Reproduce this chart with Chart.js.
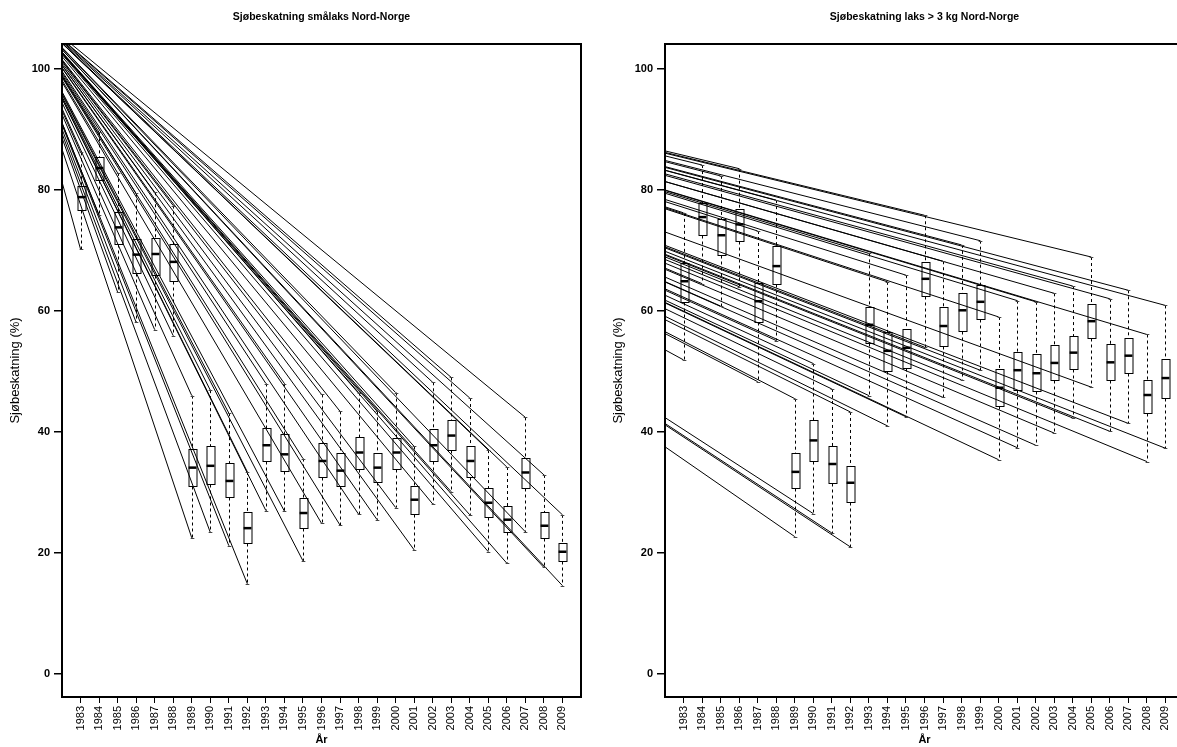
<!DOCTYPE html>
<html>
<head>
<meta charset="utf-8">
<script src="https://cdn.jsdelivr.net/npm/chart.js@4.4.1/dist/chart.umd.min.js"></script>
<style>
  html, body { margin: 0; padding: 0; background: #fff; overflow: hidden; width: 1177px; height: 747px; }
  .panel { position: absolute; top: 0; width: 590px; height: 747px; }
  #left { left: 0; }
  #right { left: 603px; }
</style>
</head>
<body>
<div class="panel" id="left"><canvas id="chartSma"></canvas></div>
<div class="panel" id="right"><canvas id="chartStor"></canvas></div>
<script>
const years = [1983, 1984, 1985, 1986, 1987, 1988, 1989, 1990, 1991, 1992, 1993, 1994, 1995, 1996,
  1997, 1998, 1999, 2000, 2001, 2002, 2003, 2004, 2005, 2006, 2007, 2008, 2009];
const yTicks = [0, 20, 40, 60, 80, 100];

// smålaks (left)
const smaUpper = [86.2, 89.5, 82.8, 79.4, 79.6, 77.4, 46.0, 46.9, 43.1, 33.4, 48.0, 48.0, 35.6, 46.2, 43.4, 46.5, 43.4, 46.5, 37.6, 48.2, 49.0, 45.6, 37.0, 34.2, 42.4, 32.9, 26.3];
const smaQ3 = [80.7, 85.4, 76.3, 71.8, 72.1, 71.0, 37.1, 37.7, 34.9, 26.7, 40.6, 39.6, 29.0, 38.1, 36.5, 39.2, 36.6, 39.0, 31.0, 40.5, 42.0, 37.7, 30.7, 27.8, 35.7, 26.7, 21.7];
const smaMedian = [78.8, 83.6, 73.8, 69.3, 69.4, 68.1, 34.1, 34.4, 31.9, 24.1, 37.8, 36.3, 26.6, 35.2, 33.6, 36.6, 34.1, 36.6, 28.8, 37.8, 39.4, 35.2, 28.3, 25.5, 33.3, 24.5, 20.2];
const smaQ1 = [76.6, 81.6, 71.0, 66.3, 66.0, 64.9, 31.1, 31.4, 29.3, 21.7, 35.2, 33.6, 24.1, 32.5, 31.1, 33.9, 31.8, 33.9, 26.4, 35.2, 37.0, 32.6, 26.0, 23.5, 30.8, 22.4, 18.7];
const smaLower = [70.2, 75.8, 63.1, 58.1, 56.9, 55.9, 22.5, 23.4, 21.2, 14.9, 27.0, 26.9, 18.7, 24.9, 24.6, 26.4, 25.5, 27.5, 20.5, 28.1, 30.1, 26.3, 20.2, 18.3, 23.5, 17.6, 14.6];

// laks > 3 kg (right)
const storUpper = [76.2, 84.1, 82.3, 83.5, 73.2, 78.3, 45.5, 51.3, 47.1, 43.3, 69.5, 64.8, 65.9, 75.8, 68.2, 70.9, 71.6, 59.0, 61.7, 61.5, 62.9, 64.1, 68.9, 62.0, 63.4, 56.1, 60.9];
const storQ3 = [67.9, 77.9, 75.2, 76.8, 64.6, 70.7, 36.6, 41.9, 37.7, 34.4, 60.7, 56.5, 57.0, 68.1, 60.7, 63.0, 64.2, 50.4, 53.2, 52.8, 54.3, 55.8, 61.2, 54.5, 55.5, 48.6, 52.0];
const storMedian = [64.9, 75.5, 72.5, 74.3, 61.6, 67.4, 33.4, 38.6, 34.7, 31.6, 57.7, 53.4, 53.9, 65.3, 57.5, 60.1, 61.5, 47.3, 50.2, 49.7, 51.4, 53.1, 58.3, 51.5, 52.6, 46.1, 48.9];
const storQ1 = [61.4, 72.6, 69.3, 71.5, 58.1, 64.4, 30.7, 35.2, 31.5, 28.5, 54.7, 50.0, 50.6, 62.4, 54.2, 56.7, 58.7, 44.3, 47.0, 46.7, 48.5, 50.4, 55.5, 48.6, 49.8, 43.1, 45.6];
const storLower = [51.9, 64.5, 60.8, 64.0, 48.3, 55.1, 22.7, 26.5, 23.3, 21.0, 46.0, 41.0, 42.5, 54.0, 45.7, 48.6, 50.2, 35.4, 37.4, 37.8, 39.8, 42.3, 47.4, 40.1, 41.4, 35.1, 37.3];

// the stray lines all start from one point up to the left (in data units of each panel)
const smaOrigin = { x: -2.8, y: 112.4 };
const storOrigin = { x: -35.3, y: 112.4 };

const FONT = "'Liberation Sans', Arial, sans-serif";

// boxes drawn with the chart's own scales
const boxPlugin = {
  id: "boxes",
  afterDatasetsDraw(chart, args, o) {
    const { ctx, chartArea, scales: { x, y } } = chart;
    ctx.save();
    ctx.beginPath();
    ctx.rect(chartArea.left, chartArea.top, chartArea.right - chartArea.left, chartArea.bottom - chartArea.top);
    ctx.clip();
    for (let i = 0; i < years.length; i++) {
      const cx = Math.round(x.getPixelForValue(i + 1)) + 0.5;
      const hw = (x.getPixelForValue(i + 1 + 0.21) - x.getPixelForValue(i + 1));
      const cw = (x.getPixelForValue(i + 1 + 0.1) - x.getPixelForValue(i + 1));
      const yu = y.getPixelForValue(o.upper[i]);
      const y3 = Math.round(y.getPixelForValue(o.q3[i])) + 0.5;
      const ym = y.getPixelForValue(o.median[i]);
      const y1 = Math.round(y.getPixelForValue(o.q1[i])) + 0.5;
      const yl = y.getPixelForValue(o.lower[i]);

      // dashed whiskers
      ctx.strokeStyle = "#000";
      ctx.lineWidth = 1;
      ctx.setLineDash([3, 3]);
      ctx.beginPath();
      ctx.moveTo(cx, yu); ctx.lineTo(cx, y3);
      ctx.moveTo(cx, y1); ctx.lineTo(cx, yl);
      ctx.stroke();
      ctx.setLineDash([]);

      // staples
      ctx.strokeStyle = "#444";
      ctx.beginPath();
      ctx.moveTo(cx - cw, Math.round(yu) + 0.5); ctx.lineTo(cx + cw, Math.round(yu) + 0.5);
      ctx.moveTo(cx - cw, Math.round(yl) + 0.5); ctx.lineTo(cx + cw, Math.round(yl) + 0.5);
      ctx.stroke();

      ctx.strokeStyle = "#000";
      ctx.strokeRect(Math.round(cx - hw), y3, Math.round(2 * hw), y1 - y3);
      ctx.lineWidth = 2.5;
      ctx.beginPath();
      ctx.moveTo(cx - hw, ym); ctx.lineTo(cx + hw, ym);
      ctx.stroke();
    }
    ctx.restore();
  }
};

const framePlugin = {
  id: "frame",
  afterDraw(chart, args, o) {
    const { ctx, chartArea } = chart;
    ctx.save();
    ctx.strokeStyle = "#000";
    ctx.lineWidth = 2;
    ctx.strokeRect(chartArea.left, chartArea.top, chartArea.right - chartArea.left, chartArea.bottom - chartArea.top);
    ctx.fillStyle = "#000";
    ctx.font = "bold 10.5px " + FONT;
    ctx.textAlign = "center";
    ctx.textBaseline = "middle";
    ctx.fillText(o.text, (chartArea.left + chartArea.right) / 2, 17);
    ctx.restore();
  }
};

function rayDatasets(origin, upper, lower) {
  const sets = [];
  years.forEach((yr, i) => {
    [upper[i], lower[i]].forEach((v) => {
      sets.push({
        data: [{ x: origin.x, y: origin.y }, { x: i + 1, y: v }],
        borderColor: "#000",
        borderWidth: 1,
        pointRadius: 0,
        fill: false,
        clip: 0
      });
    });
  });
  return sets;
}

function makeChart(id, title, origin, stats) {
  return new Chart(document.getElementById(id), {
    type: "line",
    data: { datasets: rayDatasets(origin, stats.upper, stats.lower) },
    plugins: [boxPlugin, framePlugin],
    options: {
      responsive: true,
      maintainAspectRatio: false,
      animation: false,
      events: [],
      layout: { padding: { top: 44, right: 9, left: 0, bottom: 0 } },
      plugins: {
        legend: { display: false },
        tooltip: { enabled: false },
        title: { display: false },
        boxes: stats,
        frame: { text: title }
      },
      scales: {
        x: {
          type: "linear",
          min: 0,
          max: 28,
          afterBuildTicks: (s) => { s.ticks = years.map((_, i) => ({ value: i + 1 })); },
          afterFit: (s) => { s.height = 50; },
          ticks: {
            autoSkip: false,
            minRotation: 90,
            maxRotation: 90,
            padding: 3,
            color: "#000",
            font: { family: FONT, size: 11 },
            callback: (v) => years[v - 1] ?? ""
          },
          grid: { drawOnChartArea: false, drawTicks: true, tickLength: 6, color: "#000", lineWidth: 1 },
          border: { display: false },
          title: {
            display: true,
            text: "År",
            color: "#000",
            font: { family: FONT, size: 11, weight: "bold" },
            padding: { top: 0, bottom: 0 }
          }
        },
        y: {
          type: "linear",
          min: -3.8,
          max: 104.1,
          afterBuildTicks: (s) => { s.ticks = yTicks.map((v) => ({ value: v })); },
          afterFit: (s) => { s.width = 62; },
          ticks: { color: "#000", font: { family: FONT, size: 11, weight: "bold" }, padding: 4 },
          grid: { drawOnChartArea: false, drawTicks: true, tickLength: 8, color: "#000", lineWidth: 1.5 },
          border: { display: false },
          title: {
            display: true,
            text: "Sjøbeskatning (%)",
            color: "#000",
            font: { family: FONT, size: 13 },
            padding: { top: 8, bottom: 0 }
          }
        }
      }
    }
  });
}

makeChart("chartSma", "Sjøbeskatning smålaks Nord-Norge", smaOrigin,
  { upper: smaUpper, q3: smaQ3, median: smaMedian, q1: smaQ1, lower: smaLower });
makeChart("chartStor", "Sjøbeskatning laks > 3 kg Nord-Norge", storOrigin,
  { upper: storUpper, q3: storQ3, median: storMedian, q1: storQ1, lower: storLower });
</script>
</body>
</html>
